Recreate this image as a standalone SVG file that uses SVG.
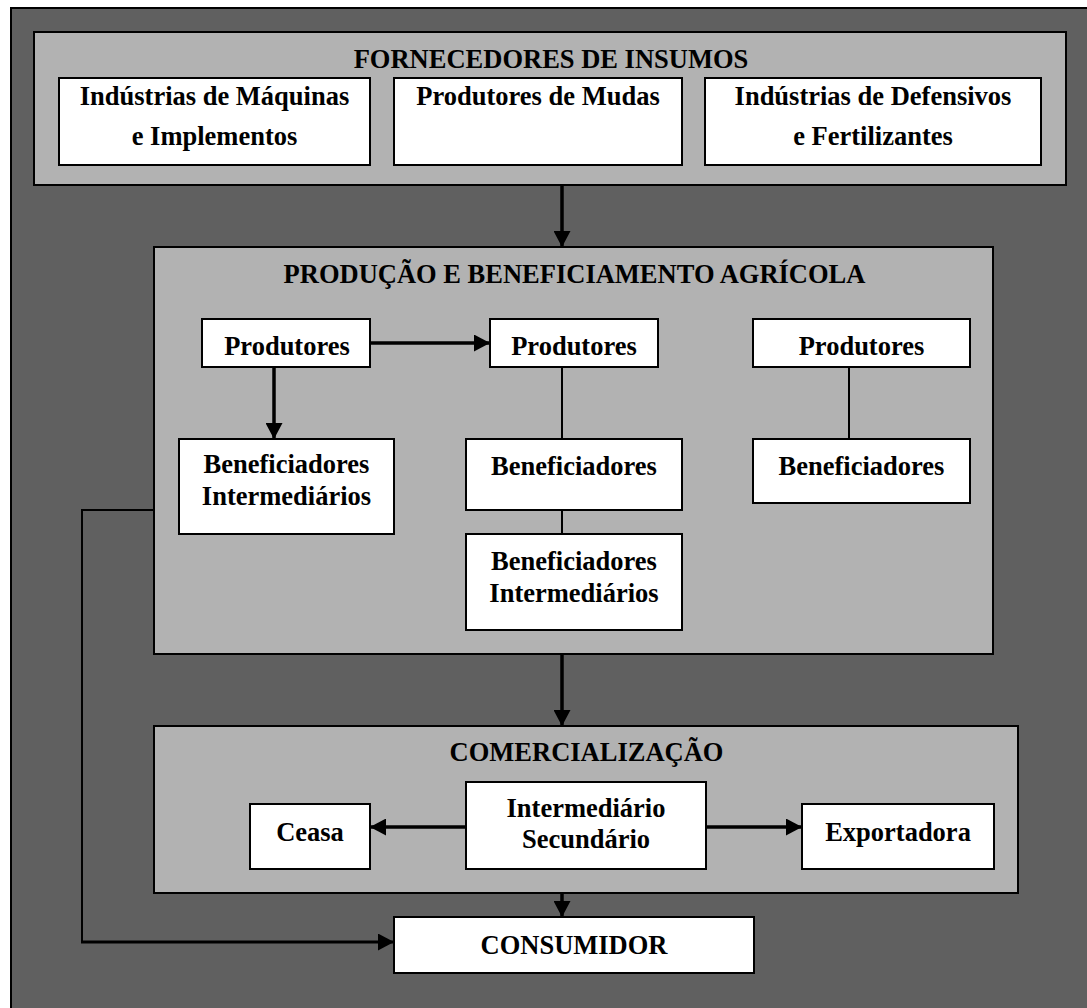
<svg xmlns="http://www.w3.org/2000/svg" width="1087" height="1008" viewBox="0 0 1087 1008">
<style>
.bg{fill:#606060;stroke:#000;stroke-width:2}
.panel{fill:#b2b2b2;stroke:#000;stroke-width:2}
.box{fill:#fff;stroke:#000;stroke-width:2}
text{font-family:"Liberation Serif","Times New Roman",serif;font-weight:bold;font-size:26.5px;fill:#000;text-anchor:middle}
.thin{stroke:#000;stroke-width:2;fill:none}
.arr{stroke:#000;stroke-width:3.5;fill:none;marker-end:url(#ah)}
</style>
<defs>
<marker id="ah" markerUnits="userSpaceOnUse" markerWidth="16" markerHeight="17" refX="15" refY="8.5" orient="auto">
<path d="M0,0 L16,8.5 L0,17 z" fill="#000"/>
</marker>
</defs>
<rect class="bg" x="11" y="8" width="1085" height="1010"/>

<g id="fornecedores">
<rect class="panel" x="34" y="32" width="1032" height="153"/>
<text x="551" y="68">FORNECEDORES DE INSUMOS</text>
</g>
<g id="ind-maquinas">
<rect class="box" x="59" y="78" width="311" height="87"/>
<text x="214.5" y="105">Indústrias de Máquinas</text>
<text x="214.5" y="145">e Implementos</text>
</g>
<g id="prod-mudas">
<rect class="box" x="394" y="78" width="288" height="87"/>
<text x="538" y="105">Produtores de Mudas</text>
</g>
<g id="ind-defensivos">
<rect class="box" x="705" y="78" width="336" height="87"/>
<text x="873" y="105">Indústrias de Defensivos</text>
<text x="873" y="145">e Fertilizantes</text>
</g>

<g id="producao">
<rect class="panel" x="154" y="247" width="839" height="407"/>
<text x="574.5" y="283">PRODUÇÃO E BENEFICIAMENTO AGRÍCOLA</text>
</g>
<g id="produtores-1">
<rect class="box" x="202" y="319" width="168" height="48"/>
<text x="287" y="355">Produtores</text>
</g>
<g id="produtores-2">
<rect class="box" x="490" y="319" width="168" height="48"/>
<text x="574" y="355">Produtores</text>
</g>
<g id="produtores-3">
<rect class="box" x="753" y="319" width="217" height="48"/>
<text x="861.5" y="355">Produtores</text>
</g>
<g id="benef-interm-1">
<rect class="box" x="179" y="439" width="215" height="95"/>
<text x="286.5" y="473">Beneficiadores</text>
<text x="286.5" y="505">Intermediários</text>
</g>
<g id="benef-2">
<rect class="box" x="466" y="439" width="216" height="71"/>
<text x="574" y="475">Beneficiadores</text>
</g>
<g id="benef-interm-2">
<rect class="box" x="466" y="534" width="216" height="96"/>
<text x="574" y="570">Beneficiadores</text>
<text x="574" y="602">Intermediários</text>
</g>
<g id="benef-3">
<rect class="box" x="753" y="439" width="217" height="64"/>
<text x="861.5" y="475">Beneficiadores</text>
</g>

<g id="comercializacao">
<rect class="panel" x="154" y="726" width="864" height="167"/>
<text x="586.5" y="761">COMERCIALIZAÇÃO</text>
</g>
<g id="ceasa">
<rect class="box" x="250" y="804" width="120" height="65"/>
<text x="310" y="841">Ceasa</text>
</g>
<g id="intermediario">
<rect class="box" x="466" y="782" width="240" height="87"/>
<text x="586" y="817">Intermediário</text>
<text x="586" y="848">Secundário</text>
</g>
<g id="exportadora">
<rect class="box" x="802" y="804" width="192" height="65"/>
<text x="898" y="841">Exportadora</text>
</g>
<g id="consumidor">
<rect class="box" x="394" y="917" width="360" height="56"/>
<text x="574" y="954">CONSUMIDOR</text>
</g>

<g id="connectors">
<line class="arr" x1="562" y1="186" x2="562" y2="246"/>
<line class="arr" x1="371" y1="343" x2="489" y2="343"/>
<line class="arr" x1="274" y1="368" x2="274" y2="438"/>
<line class="thin" x1="562" y1="367" x2="562" y2="439"/>
<line class="thin" x1="562" y1="510" x2="562" y2="534"/>
<line class="thin" x1="849" y1="367" x2="849" y2="439"/>
<line class="arr" x1="562" y1="655" x2="562" y2="725"/>
<line class="arr" x1="465" y1="827" x2="371" y2="827"/>
<line class="arr" x1="707" y1="827" x2="801" y2="827"/>
<line class="arr" x1="562" y1="894" x2="562" y2="916"/>
<polyline class="thin" points="154,510 82,510 82,942"/>
<line class="arr" x1="81" y1="942" x2="393" y2="942" style="stroke-width:3"/>
</g>
</svg>
